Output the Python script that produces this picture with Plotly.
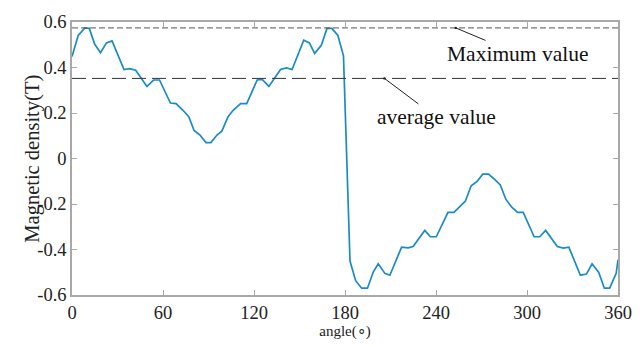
import plotly.graph_objects as go

angle = [0, 4.1, 8.5, 11.4, 15, 18.8, 22.7, 26.4, 34.3, 38, 42, 49.4, 53.8, 57.7,
         64.9, 68.6, 73, 77, 80.5, 84.4, 88.3, 91.6, 95.6, 98.8, 102.9, 106.4, 111.2,
         115.2, 122.1, 125.4, 129.8, 137.5, 141.4, 145.1, 152.8, 156.5, 160, 164.4,
         168.1, 171.4, 175.3, 179,
         183.3, 187, 191, 194.8, 198.7, 201.9, 206.3, 209.6, 217.3, 221.6, 224.9,
         232.6, 236.3, 240.2, 247.9, 251.8, 255.5, 259.4, 263.2, 267.1, 270.8, 274.6,
         278.5, 282.4, 286.1, 290.1, 293.8, 297.5, 304.7, 308.4, 312.3, 320, 323.9,
         327.6, 335.2, 339.2, 342.9, 347.3, 351, 354.5, 358.8, 360]
density = [0.448, 0.541, 0.574, 0.572, 0.502, 0.465, 0.508, 0.517, 0.391, 0.395, 0.388,
           0.317, 0.345, 0.345, 0.244, 0.241, 0.213, 0.184, 0.123, 0.103, 0.070, 0.070,
           0.103, 0.120, 0.184, 0.213, 0.241, 0.241, 0.345, 0.348, 0.317, 0.391, 0.398,
           0.391, 0.520, 0.508, 0.462, 0.498, 0.572, 0.572, 0.541, 0.451,
           -0.451, -0.537, -0.570, -0.570, -0.498, -0.463, -0.505, -0.513, -0.390,
           -0.393, -0.387, -0.316, -0.344, -0.344, -0.237, -0.237, -0.213, -0.187,
           -0.120, -0.101, -0.069, -0.069, -0.091, -0.116, -0.180, -0.215, -0.237,
           -0.237, -0.344, -0.344, -0.316, -0.387, -0.394, -0.390, -0.513, -0.508,
           -0.463, -0.501, -0.570, -0.570, -0.505, -0.445]

max_value = 0.574
avg_value = 0.352

x_ticks = [0, 60, 120, 180, 240, 300, 360]
y_ticks = [0.6, 0.4, 0.2, 0, -0.2, -0.4, -0.6]
y_ticktext = ["0.6", "0.4", "0.2", "0", "-0.2", "-0.4", "-0.6"]

serif = "Liberation Serif, Times New Roman, serif"

fig = go.Figure()
fig.add_trace(go.Scatter(x=angle, y=density, mode="lines",
                         line=dict(color="#1a8bc4", width=1.7), showlegend=False))

fig.add_shape(type="line", xref="x", yref="y", x0=0, x1=360, y0=max_value, y1=max_value,
              line=dict(color="#555555", width=1, dash="6px,3px"))
fig.add_shape(type="line", xref="x", yref="y", x0=0, x1=360, y0=avg_value, y1=avg_value,
              line=dict(color="#333333", width=1, dash="14px,6px"))

fig.add_annotation(x=253, y=max_value, xref="x", yref="y", text="Maximum value",
                   showarrow=True, arrowhead=6, arrowsize=0.6, arrowwidth=1,
                   arrowcolor="#222222", ax=62, ay=26,
                   font=dict(family=serif, size=21.5, color="#111111"))
fig.add_annotation(x=206, y=avg_value, xref="x", yref="y", text="average value",
                   showarrow=True, arrowhead=6, arrowsize=0.6, arrowwidth=1,
                   arrowcolor="#222222", ax=52, ay=39,
                   font=dict(family=serif, size=21.5, color="#111111"))

fig.add_annotation(x=-0.0729, y=0.5, xref="paper", yref="paper", text="Magnetic density(T)",
                   textangle=-90, showarrow=False, xanchor="center", yanchor="middle",
                   font=dict(family=serif, size=20.5, color="#222222"))

axis_common = dict(showgrid=False, zeroline=False, showline=True, linecolor="#a8a8a8",
                   linewidth=1.5, mirror="ticks", ticks="inside", ticklen=5,
                   tickcolor="#a8a8a8", tickwidth=1,
                   tickfont=dict(family=serif, size=18.5, color="#222222"))

fig.update_xaxes(range=[0, 360], tickvals=x_ticks,
                 title=dict(text="angle(∘)", font=dict(family=serif, size=15, color="#222222"),
                            standoff=2),
                 **axis_common)
fig.update_yaxes(range=[-0.6, 0.6], tickvals=y_ticks, ticktext=y_ticktext,
                 **axis_common)

fig.update_layout(width=644, height=347, margin=dict(l=72, r=23, t=18, b=49),
                  plot_bgcolor="white", paper_bgcolor="white")

fig.write_html("out.html")
